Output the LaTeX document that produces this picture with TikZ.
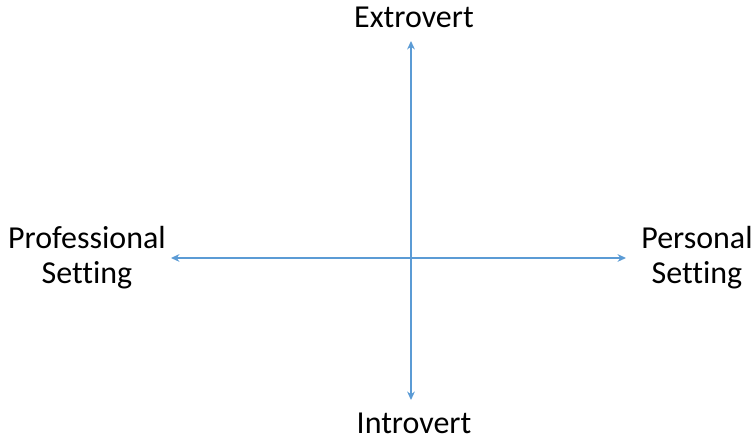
\documentclass[tikz,border=0pt]{standalone}
\usepackage{fontspec}
\setmainfont[Ligatures=NoCommon]{Carlito}
\usetikzlibrary{arrows.meta}
\definecolor{axisblue}{RGB}{91,155,213}
\tikzset{
	axis/.style={axisblue, line width=0.6pt, {Stealth[length=2.4pt,width=2.2pt]}-{Stealth[length=2.4pt,width=2.2pt]}},
	label/.style={font=\fontsize{9.1}{9.96}\selectfont, align=center, inner sep=0pt}
}
\begin{document}
\begin{tikzpicture}
	\useasboundingbox (-4.11,-1.87) rectangle (3.44,2.58);
	% axis ends
	\coordinate (top) at (0,2.17);
	\coordinate (bottom) at (0,-1.42);
	\coordinate (left) at (-2.40,0);
	\coordinate (right) at (2.15,0);
	\draw[axis] (bottom) -- (top);
	\draw[axis] (left) -- (right);
	% quadrant labels
	\node[label, anchor=base] (extro) at (0.03,2.30) {Extrovert};
	\node[label, anchor=base] (intro) at (0.03,-1.76) {Introvert};
	\node[label] (prof) at (-3.24,0.0) {Professional\\Setting};
	\node[label] (pers) at (2.86,0.0) {Personal\\Setting};
\end{tikzpicture}
\end{document}
